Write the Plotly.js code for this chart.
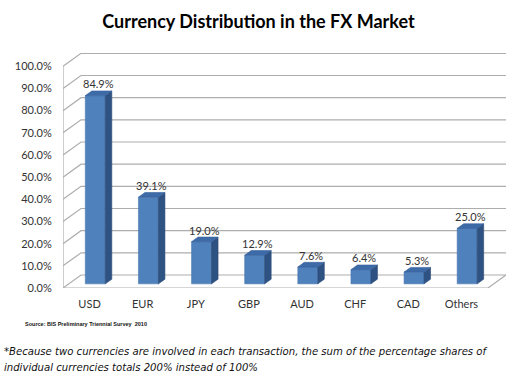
<!DOCTYPE html>
<html><head><meta charset="utf-8">
<script src="https://cdn.plot.ly/plotly-3.0.1.min.js"></script>
<style>html,body{margin:0;padding:0;background:#fff}#c{width:520px;height:386px}</style>
</head><body><div id="c"></div>
<script>
const categories = ["USD","EUR","JPY","GBP","AUD","CHF","CAD","Others"];
const shares = [84.9, 39.1, 19.0, 12.9, 7.6, 6.4, 5.3, 25.0];
const yTicks = [0,10,20,30,40,50,60,70,80,90,100];
const yTickLabels = yTicks.map(v => v.toFixed(1) + "%");

// geometry of the pseudo-3D projection (in axis units)
const W = 520, H = 386;
const L = 63, R = 506, T = 52.7, B = 288;
const n = categories.length;
const xr = [-0.5, n - 0.5 + 0.339];
const yr = [0, 106];
const pxPerX = (R - L) / (xr[1] - xr[0]);
const pxPerY = (B - T) / (yr[1] - yr[0]);
const dX = 18 / pxPerX, dY = 13 / pxPerY;   // wall depth
const f0 = 0.32, f1 = 0.68;                 // bar depth fraction
const barW = 20 / pxPerX;

const idx = categories.map((c, i) => i);
const shapes = [];
const grid = '#ADADAD';
yTicks.forEach(v => {
  shapes.push({type:'path', layer:'below', xref:'x', yref:'y',
    path:`M${xr[0]},${v} L${xr[0]+dX},${v+dY} L${n-0.5+dX},${v+dY}`,
    line:{color:grid, width:1.2}});
});
// floor front & right edge, left axis line
shapes.push({type:'path', layer:'below', xref:'x', yref:'y',
  path:`M${xr[0]},0 L${n-0.5},0 L${n-0.5+dX},${dY}`, line:{color:grid, width:1.2}});
shapes.push({type:'line', layer:'below', xref:'x', yref:'y',
  x0:xr[0], x1:xr[0], y0:0, y1:100, line:{color:grid, width:1.2}});

const frontX = idx.map(i => i + f0*dX);
const base0 = f0*dY;
const ddx = (f1-f0)*dX, ddy = (f1-f0)*dY;
idx.forEach(i => {
  const xl = frontX[i] - barW/2, xrr = frontX[i] + barW/2;
  const yt = base0 + shares[i], yb = base0;
  // side face
  shapes.push({type:'path', layer:'above', xref:'x', yref:'y',
    path:`M${xrr},${yb} L${xrr+ddx},${yb+ddy} L${xrr+ddx},${yt+ddy} L${xrr},${yt} Z`,
    fillcolor:'#2E5282', line:{color:'#2A4A75', width:0.6}});
  // top face
  shapes.push({type:'path', layer:'above', xref:'x', yref:'y',
    path:`M${xl},${yt} L${xl+ddx},${yt+ddy} L${xrr+ddx},${yt+ddy} L${xrr},${yt} Z`,
    fillcolor:'#3D6BA8', line:{color:'#35609A', width:0.6}});
});

const annotations = idx.map(i => ({
  x: frontX[i] + ddx/2, y: base0 + shares[i] + ddy, xref:'x', yref:'y',
  text: shares[i].toFixed(1) + '%', showarrow:false, yanchor:'bottom', yshift:-1.5,
  font:{family:'Lato, sans-serif', size:11, color:'#333'}
}));
const px2x = p => (p - L) / (R - L);
const px2y = p => (B - p) / (B - T);
annotations.push({xref:'paper', yref:'paper', x:px2x(23), y:px2y(324), xanchor:'left', yanchor:'middle',
  text:'Source: BIS Preliminary Triennial Survey  2010', showarrow:false,
  font:{family:'Liberation Sans, Arial, sans-serif', size:5.5, color:'#111', weight:'bold'}});
annotations.push({xref:'paper', yref:'paper', x:px2x(2), y:px2y(352), xanchor:'left', yanchor:'middle',
  text:'<i>*Because two currencies are involved in each transaction, the sum of the percentage shares of</i>', showarrow:false,
  font:{family:'DejaVu Sans, Verdana, sans-serif', size:10.1, color:'#111'}});
annotations.push({xref:'paper', yref:'paper', x:px2x(2), y:px2y(368), xanchor:'left', yanchor:'middle',
  text:'<i>individual currencies totals 200% instead of 100%</i>', showarrow:false,
  font:{family:'DejaVu Sans, Verdana, sans-serif', size:10.1, color:'#111'}});

const trace = {
  type:'bar', x: frontX, y: shares, base: base0, width: barW,
  marker:{color:'#4F81BD', line:{color:'#4A78B0', width:0.6}},
  hoverinfo:'skip', showlegend:false
};

const layout = {
  width:W, height:H, paper_bgcolor:'#fff', plot_bgcolor:'rgba(0,0,0,0)',
  margin:{l:L, r:W-R, t:T, b:H-B, pad:0},
  title:{text:'<b>Currency Distribution in the FX Market</b>', x:258.5/W, xanchor:'center',
    y:1-22/H, yanchor:'middle', xref:'container', yref:'container',
    font:{family:'Lato, sans-serif', size:18, color:'#000'}},
  xaxis:{range:xr, tickvals:idx, ticktext:categories, showgrid:false, zeroline:false,
    showline:false, ticks:'outside', ticklen:6, tickcolor:'rgba(0,0,0,0)', fixedrange:true,
    tickfont:{family:'Lato, sans-serif', size:11, color:'#333'}},
  yaxis:{range:yr, tickvals:yTicks, ticktext:yTickLabels, showgrid:false, zeroline:false,
    showline:false, ticks:'outside', ticklen:8, tickcolor:'rgba(0,0,0,0)', fixedrange:true,
    tickfont:{family:'Lato, sans-serif', size:11, color:'#333'}},
  shapes, annotations, bargap:0
};
Plotly.newPlot('c', [trace], layout, {displayModeBar:false, staticPlot:true});
</script></body></html>
